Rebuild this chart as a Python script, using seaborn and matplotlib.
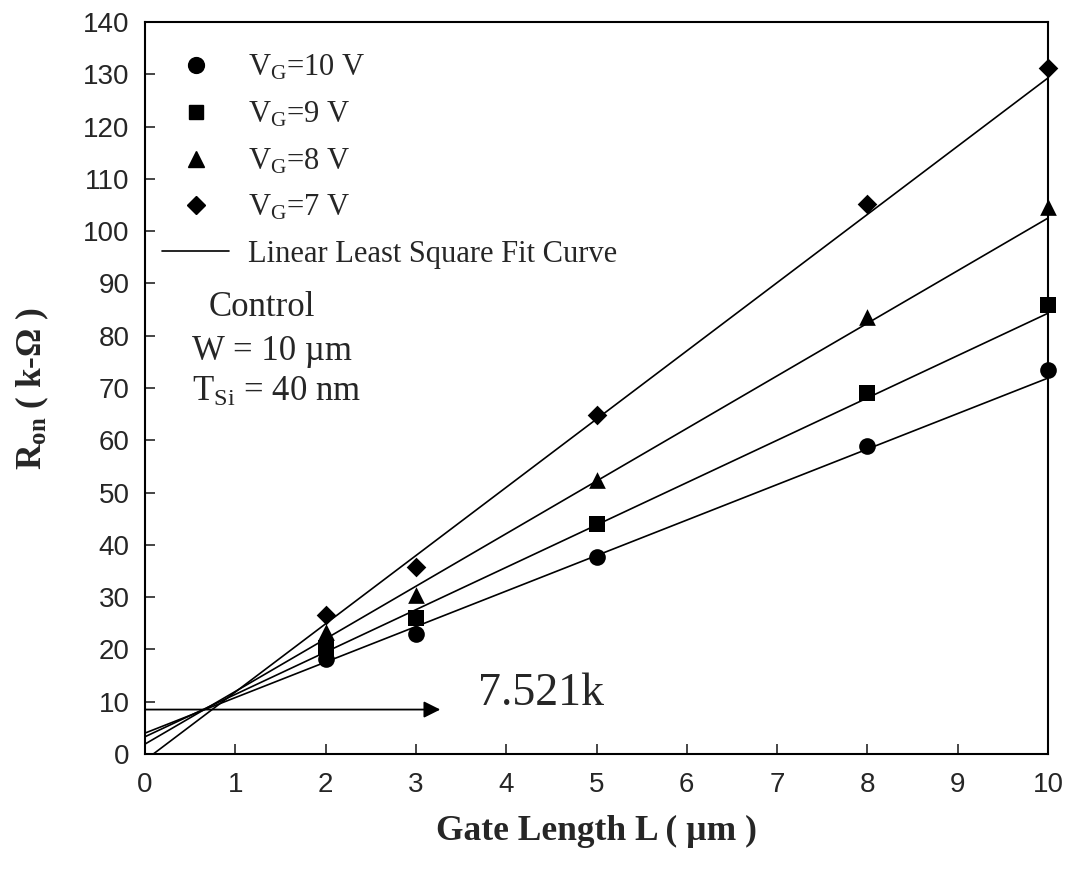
import numpy as np
import pandas as pd
import matplotlib
matplotlib.use("Agg")
import matplotlib.pyplot as plt
import seaborn as sns

# ---- data ----
gate_length = [2, 3, 5, 8, 10]
ron_vg10 = [18.2, 23.0, 37.7, 58.9, 73.4]
ron_vg9 = [20.3, 26.0, 44.0, 69.0, 85.9]
ron_vg8 = [23.3, 30.4, 52.4, 83.6, 104.6]
ron_vg7 = [26.6, 35.8, 64.8, 105.2, 131.2]
# least-square fit lines as drawn (value at L=0 and at L=10)
fit_L = [0, 10]
fit_vg10 = [4.0, 71.9]
fit_vg9 = [3.3, 84.3]
fit_vg8 = [1.9, 102.5]
fit_vg7 = [-1.2, 129.3]
series_labels = [r"V$_{\mathregular{G}}$=10 V", r"V$_{\mathregular{G}}$=9 V",
                 r"V$_{\mathregular{G}}$=8 V", r"V$_{\mathregular{G}}$=7 V"]
fit_label = "Linear Least Square Fit Curve"
x_ticks = list(range(0, 11))
y_ticks = list(range(0, 141, 10))
arrow_level = 8.5
arrow_end = 3.27
annot_text = "7.521k"

sns.set_style("ticks")
plt.rcParams["font.family"] = ["Liberation Serif", "DejaVu Serif"]
plt.rcParams["mathtext.fontset"] = "custom"
plt.rcParams["mathtext.rm"] = "Liberation Serif"
plt.rcParams["mathtext.it"] = "Liberation Serif:italic"
plt.rcParams["mathtext.bf"] = "Liberation Serif:bold"

fig = plt.figure(figsize=(10.74, 8.72), dpi=100)
ax = fig.add_axes([145 / 1074, 1 - 754 / 872, 903 / 1074, 732 / 872])

series = [ron_vg10, ron_vg9, ron_vg8, ron_vg7]
fits = [fit_vg10, fit_vg9, fit_vg8, fit_vg7]
markers = ["o", "s", "^", "D"]
sizes = [12, 11, 12, 10]

for fv in fits:
    dfl = pd.DataFrame({"L": fit_L, "R": fv})
    sns.lineplot(data=dfl, x="L", y="R", ax=ax, color="black", linewidth=1.2,
                 legend=False)

handles = []
for vals, m, s, lab in zip(series, markers, sizes, series_labels):
    df = pd.DataFrame({"L": gate_length, "R": vals})
    sns.scatterplot(data=df, x="L", y="R", ax=ax, marker=m, s=s ** 2,
                    color="black", edgecolor="black", linewidth=0, zorder=5,
                    legend=False, clip_on=False)
    handles.append(plt.Line2D([], [], marker=m, markersize=s * 0.95, color="black",
                              linestyle="none", label=lab))
handles.append(plt.Line2D([], [], color="black", linewidth=1.2, label=fit_label))

leg = ax.legend(handles=handles, loc="upper left", bbox_to_anchor=(0.019, 0.957),
                frameon=False, fontsize=22, handlelength=2.2, handletextpad=0.6,
                labelspacing=0.56, borderaxespad=0, borderpad=0)

ax.annotate("", xy=(arrow_end, arrow_level), xytext=(0, arrow_level),
            arrowprops=dict(arrowstyle="-|>", mutation_scale=25, lw=1.3,
                            color="black", shrinkA=0, shrinkB=0))
ax.text(3.69, 9.4, annot_text, fontsize=33, va="baseline", ha="left")

ax.text(0.70, 83.8, "Control", fontsize=25, va="baseline", ha="left")
ax.text(0.52, 75.3, "W = 10 \u00b5m", fontsize=25, va="baseline", ha="left")
ax.text(0.52, 67.5, r"T$_{\mathregular{Si}}$ = 40 nm", fontsize=25,
        va="baseline", ha="left")

ax.set_xlim(0, 10)
ax.set_ylim(0, 140)
ax.set_xticks(x_ticks)
ax.set_yticks(y_ticks)
for lab in ax.get_xticklabels() + ax.get_yticklabels():
    lab.set_fontfamily("Liberation Sans")
    lab.set_fontsize(20)
ax.tick_params(axis="both", direction="in", length=7, width=1.2,
               top=False, right=False)
ax.tick_params(axis="x", pad=13)
ax.tick_params(axis="y", pad=11)
for sp in ax.spines.values():
    sp.set_visible(True)
    sp.set_linewidth(1.5)
    sp.set_color("black")

ax.set_xlabel("Gate Length L ( \u00b5m )", fontsize=25.5, fontweight="bold")
ax.set_ylabel("$\\mathbf{R_{on}}$ ( k-\u03a9 )", fontsize=25.5, fontweight="bold")
ax.xaxis.set_label_coords(0.5, -0.083)
ax.yaxis.set_label_coords(-0.104, 0.5)
ax.xaxis.label.set_verticalalignment("top")

fig.savefig("out.png", dpi=100)
